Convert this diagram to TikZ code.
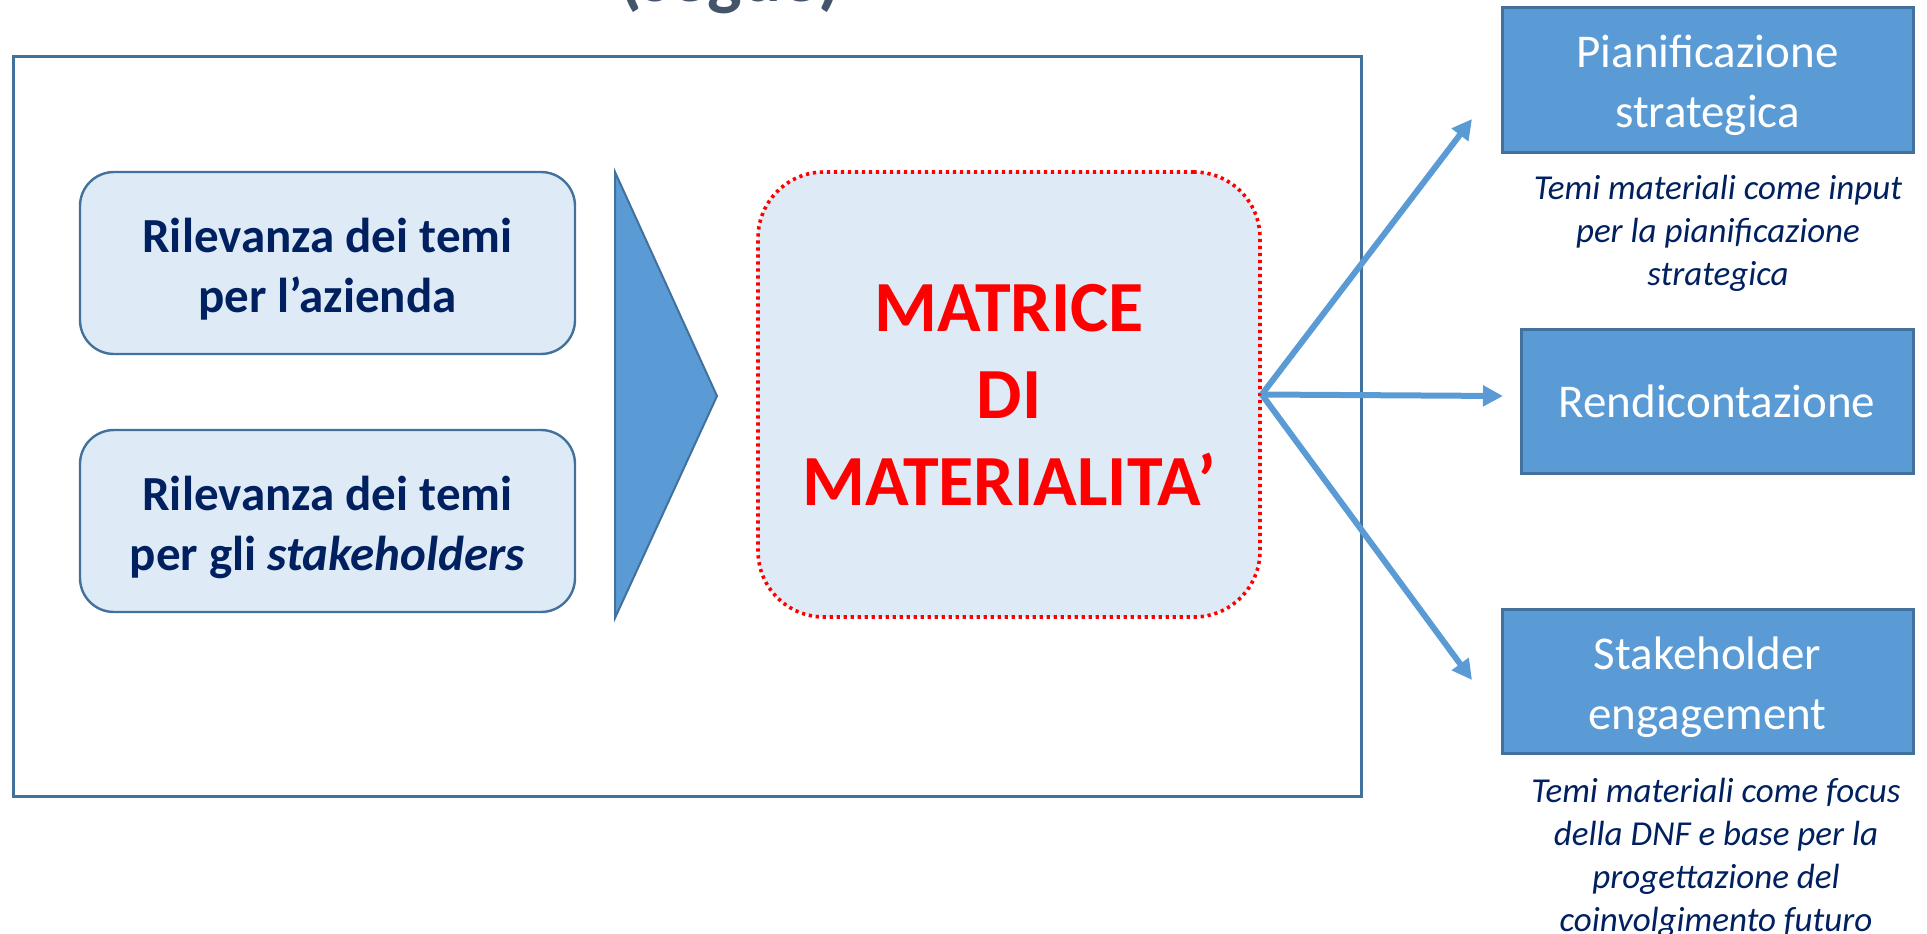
\documentclass[tikz,border=0pt]{standalone}
\usepackage{fontspec}
\setmainfont{Carlito}
\usetikzlibrary{arrows.meta}
\definecolor{navy}{HTML}{002060}
\definecolor{edge}{HTML}{41719C}
\definecolor{accent}{HTML}{5B9BD5}
\definecolor{pale}{HTML}{DEEBF7}
\definecolor{slate}{HTML}{44546A}
\definecolor{alert}{HTML}{FF0000}

\begin{document}
\begin{tikzpicture}[x=0.5pt,y=-0.5pt,
  frame/.style={draw=edge, line width=1.5pt, inner sep=0pt},
  topic/.style={draw=edge, fill=pale, line width=1.2pt, rounded corners=17pt,
    minimum width=247.5pt, minimum height=91pt, inner sep=0pt},
  topictext/.style={inner sep=0pt, align=center, text=navy,
    font=\bfseries\fontsize{24.5}{30}\selectfont},
  matrixbox/.style={draw=alert, fill=pale, line width=1.8pt,
    dash pattern=on 1.6pt off 1.9pt, rounded corners=33pt,
    minimum width=251pt, minimum height=222.5pt, inner sep=0pt, align=center,
    text=alert, font=\bfseries\fontsize{36}{43.5}\selectfont},
  usebox/.style={draw=edge, fill=accent, line width=1.5pt, inner sep=0pt,
    minimum width=205.5pt, minimum height=72.5pt},
  usetext/.style={inner sep=0pt, align=center, text=white,
    font=\fontsize{23.5}{30}\selectfont},
  note/.style={inner sep=0pt, align=center, text=navy,
    font=\itshape\fontsize{17.5}{21.5}\selectfont},
  conn/.style={draw=accent, line width=3pt,
    -{Triangle[length=10pt,width=10pt]}},
  heading/.style={inner sep=0pt, text=slate,
    font=\bfseries\fontsize{36.5}{44}\selectfont}
]
\useasboundingbox (0,0) rectangle (1927,933);

% heading of the slide, running off the top edge
\begin{scope}
  \clip (0,0) rectangle (1927,933);
  \node[heading, anchor=base] (title) at (730,1) {(segue)};
\end{scope}

% outer frame
\node[frame, minimum width=674pt, minimum height=370pt] (frame) at (687,426) {};

% inputs
\node[topic] (firm) at (327.5,263) {};
\node[topictext] (firmText) at ([yshift=-3pt]firm.center) {Rilevanza dei temi\\per l’azienda};
\node[topic] (stake) at (327.5,521) {};
\node[topictext] (stakeText) at ([yshift=-3pt]stake.center) {Rilevanza dei temi\\per gli \textit{stakeholders}};

% chevron pointing at the matrix
\coordinate (chevA) at (615,172);
\coordinate (chevB) at (717,396);
\coordinate (chevC) at (615,618);
\fill[accent, draw=edge, line width=1pt, line join=miter] (chevA) -- (chevB) -- (chevC) -- cycle;

% the materiality matrix
\node[matrixbox] (matrix) at (1009,394.5) {MATRICE\\DI\\MATERIALITA’};

% uses of the matrix
\node[usebox] (plan) at (1707.5,79.5) {};
\node[usetext] (planText) at ([yshift=-3pt]plan.center) {Pianificazione\\strategica};
\node[usebox, minimum width=196pt, minimum height=72pt] (report) at (1717,401) {};
\node[usetext] (reportText) at (report.center) {Rendicontazione};
\node[usebox, minimum height=72pt] (engage) at (1707.5,681) {};
\node[usetext] (engageText) at ([yshift=-3pt]engage.center) {Stakeholder\\engagement};

\node[note, anchor=north] (planNote) at (1718,175) {Temi materiali come input\\per la pianificazione\\strategica};
\node[note, anchor=north] (engageNote) at (1716,778) {Temi materiali come focus\\della DNF e base per la\\progettazione del\\coinvolgimento futuro};

% arrows out of the matrix
\coordinate (tipPlan) at (1472,119);
\coordinate (tipReport) at (1503,396);
\coordinate (tipEngage) at (1472,680);
\draw[conn] (matrix.east) -- (tipPlan);
\draw[conn] (matrix.east) -- (tipReport);
\draw[conn] (matrix.east) -- (tipEngage);
\end{tikzpicture}
\end{document}
